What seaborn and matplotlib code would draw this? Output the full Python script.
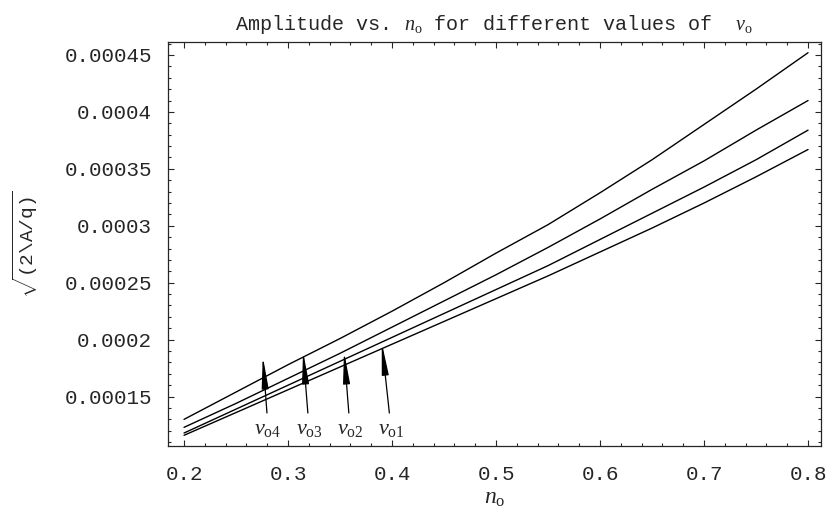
import numpy as np
import pandas as pd
import matplotlib
matplotlib.use('Agg')
import matplotlib.pyplot as plt
import seaborn as sns
from matplotlib.ticker import MultipleLocator

# n_o sample points and amplitude curves (units of 1e-4)
n_o = [0.20, 0.25, 0.30, 0.35, 0.40, 0.45, 0.50, 0.55, 0.60, 0.65, 0.70, 0.75, 0.80]
amp_v4 = [1.30, 1.54, 1.78, 2.01, 2.25, 2.50, 2.76, 3.01, 3.29, 3.58, 3.89, 4.20, 4.52]
amp_v3 = [1.23, 1.44, 1.66, 1.88, 2.11, 2.34, 2.57, 2.81, 3.06, 3.32, 3.57, 3.84, 4.10]
amp_v2 = [1.18, 1.39, 1.60, 1.81, 2.02, 2.23, 2.44, 2.65, 2.88, 3.11, 3.34, 3.58, 3.84]
amp_v1 = [1.16, 1.36, 1.56, 1.76, 1.96, 2.16, 2.36, 2.56, 2.77, 2.98, 3.20, 3.43, 3.67]

series_names = ['v_o4', 'v_o3', 'v_o2', 'v_o1']
label_texts = [r'$v_{\mathrm{o4}}$', r'$v_{\mathrm{o3}}$', r'$v_{\mathrm{o2}}$', r'$v_{\mathrm{o1}}$']
# arrow tips (on the curves) and label anchors
arrow_tip_x = [0.2757, 0.3144, 0.3538, 0.3901]
arrow_tip_y = [1.852e-4, 1.896e-4, 1.896e-4, 1.973e-4]
label_x = [0.2808, 0.3202, 0.3596, 0.3990]
label_y = [1.315e-4, 1.315e-4, 1.315e-4, 1.315e-4]

x_ticks = [0.2, 0.3, 0.4, 0.5, 0.6, 0.7, 0.8]
y_ticks = [0.00015, 0.0002, 0.00025, 0.0003, 0.00035, 0.0004, 0.00045]
y_tick_labels = ['0.00015', '0.0002', '0.00025', '0.0003', '0.00035', '0.0004', '0.00045']

sns.set_style('ticks')
plt.rcParams['font.family'] = ['Liberation Mono', 'DejaVu Sans Mono']
plt.rcParams['mathtext.fontset'] = 'custom'
plt.rcParams['mathtext.it'] = 'Liberation Serif:italic'
plt.rcParams['mathtext.rm'] = 'Liberation Serif'
plt.rcParams['mathtext.tt'] = 'Liberation Mono'

rows = []
for name, vals in zip(series_names, [amp_v4, amp_v3, amp_v2, amp_v1]):
    for x, v in zip(n_o, vals):
        rows.append({'n_o': x, 'amp': v * 1e-4, 'series': name})
df = pd.DataFrame(rows)

fig = plt.figure(figsize=(8.26, 5.13), dpi=100)
ax = fig.add_axes([0.2028, 0.1306, 0.7912, 0.7875])

sns.lineplot(data=df, x='n_o', y='amp', hue='series', units='series', estimator=None,
             palette=['black'] * 4, linewidth=1.0, legend=False, ax=ax)

for txt, tx, ty, lx, ly in zip(label_texts, arrow_tip_x, arrow_tip_y, label_x, label_y):
    ax.annotate(txt, xy=(tx, ty), xytext=(lx, ly), ha='center', va='top', fontsize=16,
                arrowprops=dict(arrowstyle='-|>,head_length=1.2,head_width=0.13',
                                color='black', lw=0.9, shrinkA=1, shrinkB=0))

ax.set_xlim(0.1841, 0.8125)
ax.set_ylim(1.066e-4, 4.614e-4)
ax.set_xticks(x_ticks)
ax.set_xticklabels([str(t) for t in x_ticks])
ax.set_yticks(y_ticks)
ax.set_yticklabels(y_tick_labels)
ax.xaxis.set_minor_locator(MultipleLocator(0.02))
ax.yaxis.set_minor_locator(MultipleLocator(0.00001))
ax.tick_params(which='both', direction='in', top=True, right=True, width=0.8, labelsize=15)
ax.tick_params(which='major', length=4.5)
ax.tick_params(which='minor', length=2.5)
ax.tick_params(axis='x', which='major', pad=14)
ax.tick_params(axis='y', which='major', pad=11)
for sp in ax.spines.values():
    sp.set_linewidth(0.9)

ax.set_xlabel(r'$n_{\mathrm{o}}$', fontsize=17, labelpad=1)
ax.set_ylabel(r'$\sqrt{\mathtt{(2\backslash A/q)}}$', fontsize=14, labelpad=18)
ax.set_title(r'Amplitude vs. $n_{\mathrm{o}}$ for different values of  $v_{\mathrm{o}}$',
             fontsize=14.5, pad=9)

fig.savefig('out.png', dpi=100)
